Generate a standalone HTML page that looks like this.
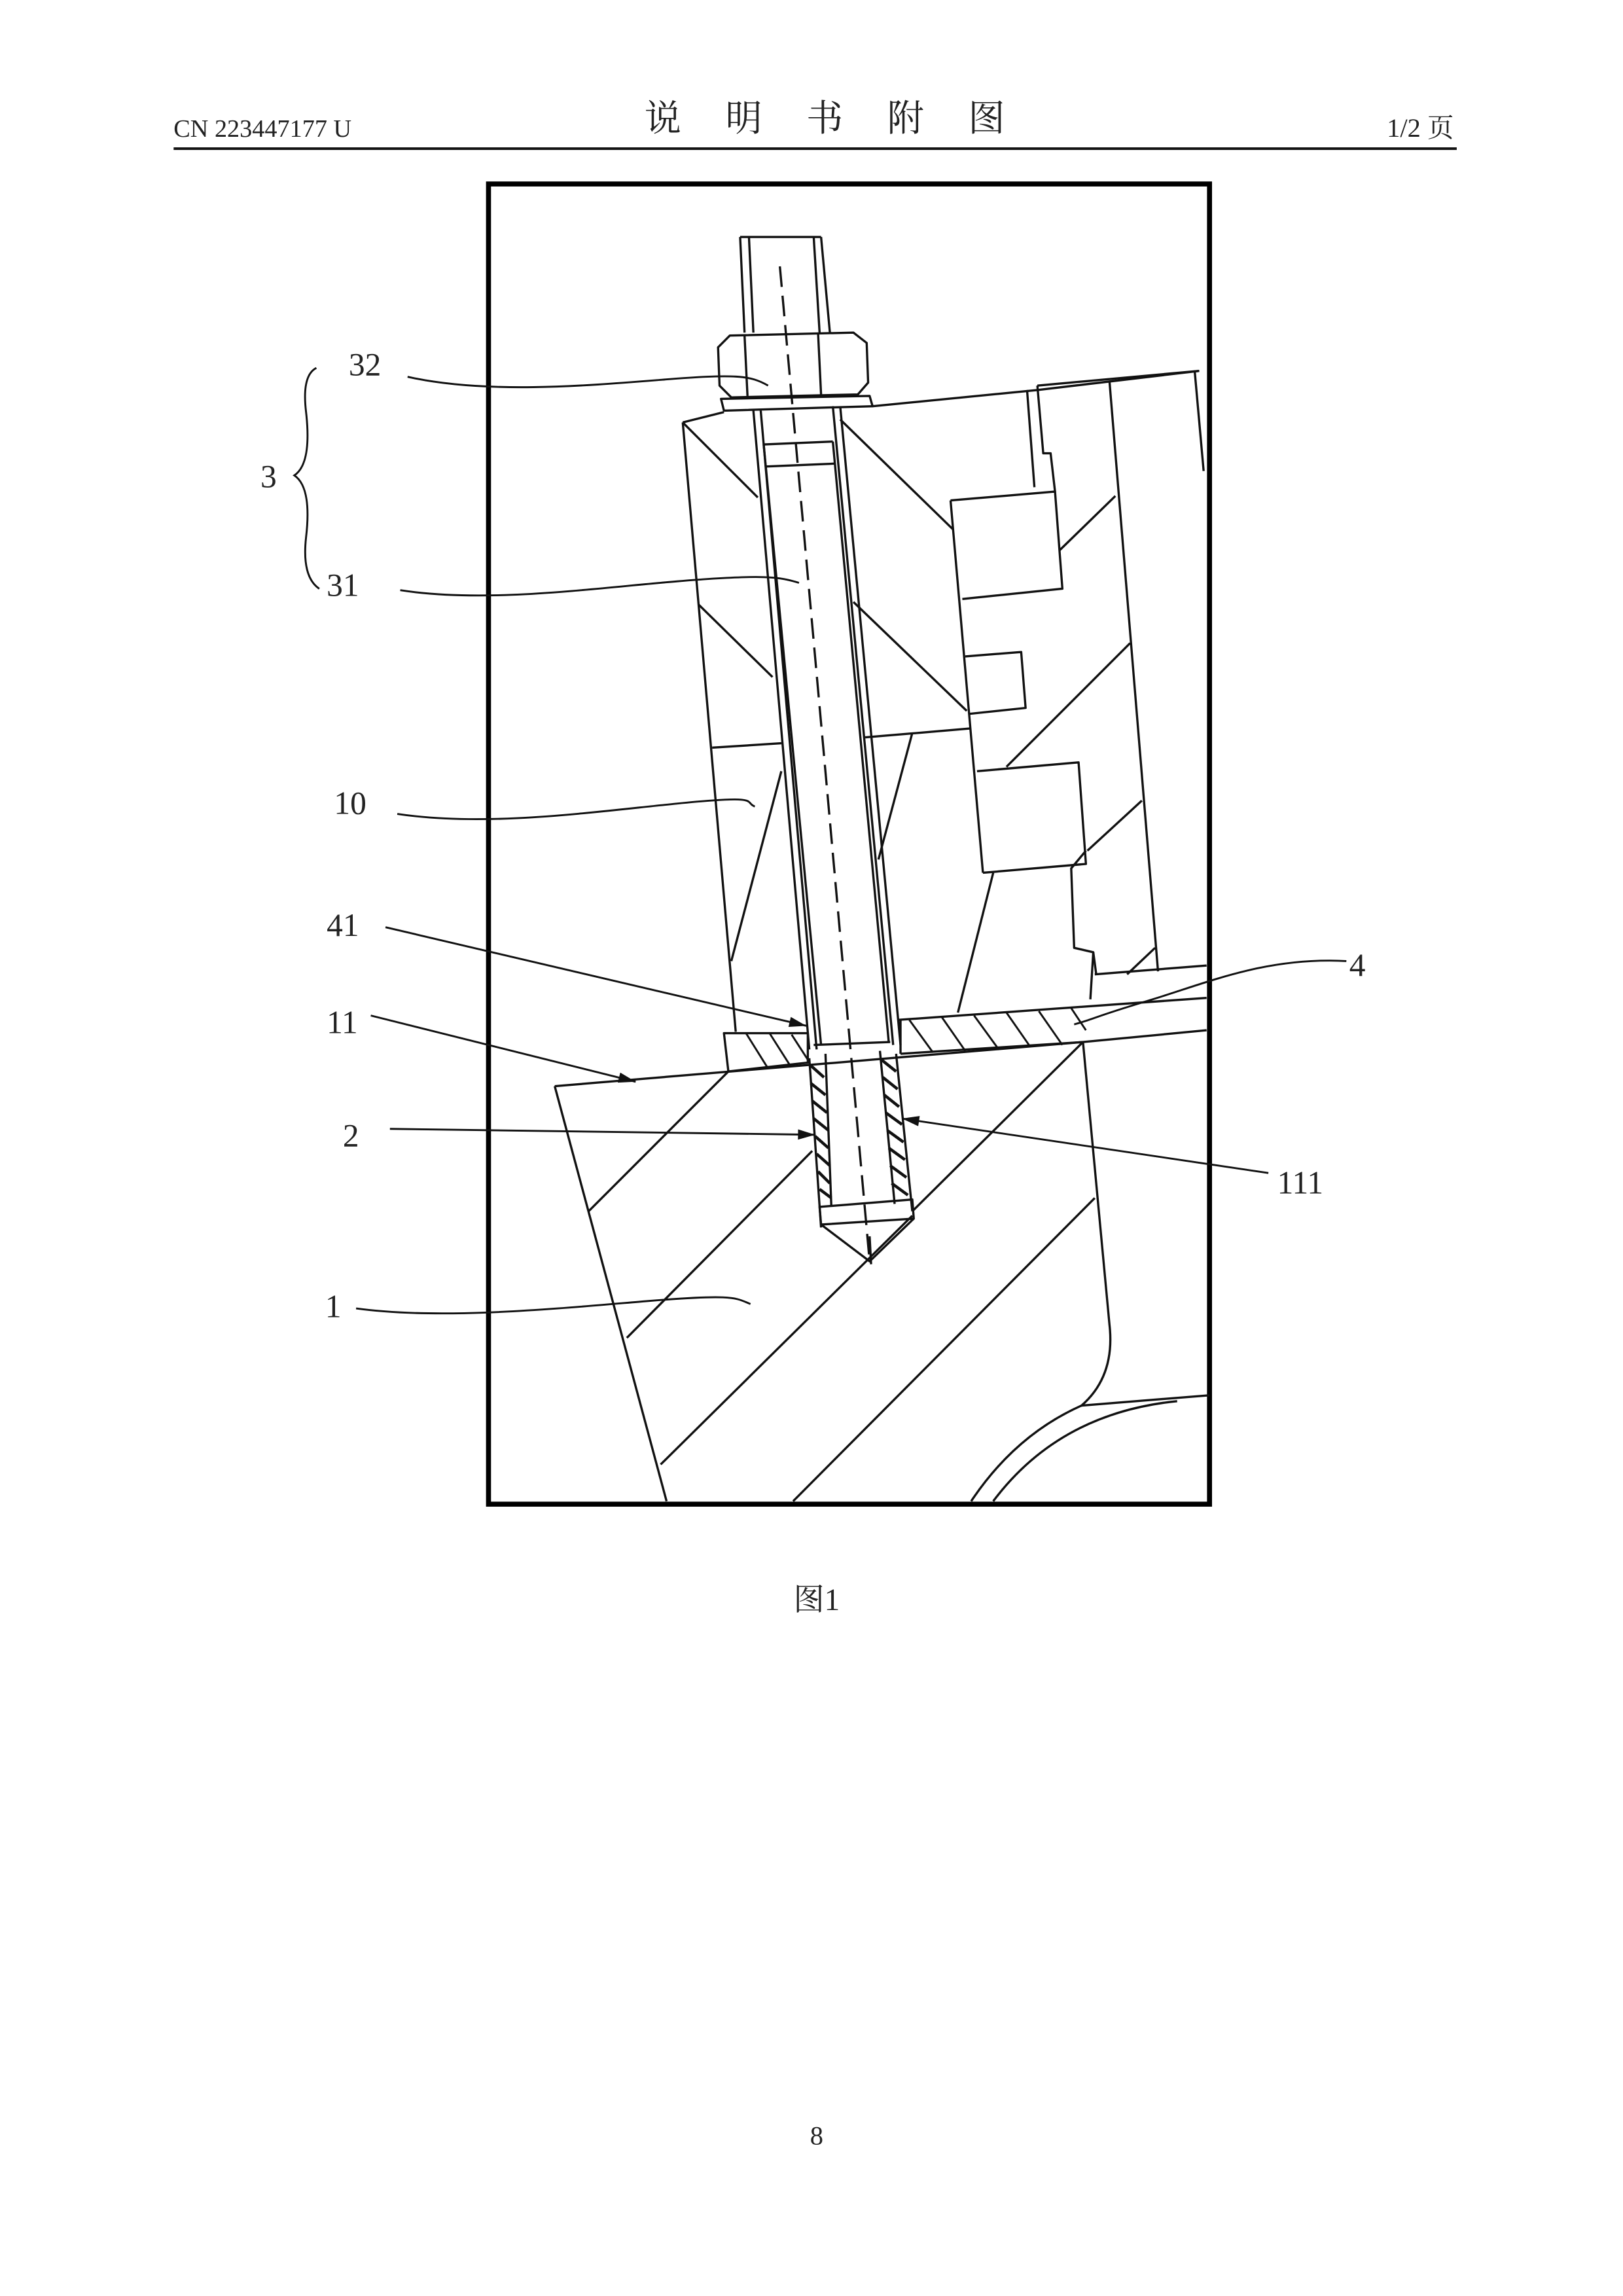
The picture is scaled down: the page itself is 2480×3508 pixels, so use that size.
<!DOCTYPE html>
<html><head><meta charset="utf-8"><style>
html,body{margin:0;padding:0;background:#fff}
svg{display:block}
text{font-family:"Liberation Serif","Noto Serif CJK SC",serif;fill:#222}
</style></head><body>
<svg width="2480" height="3508" viewBox="0 0 1103 1560" preserveAspectRatio="none" xmlns="http://www.w3.org/2000/svg">
<defs>
<marker id="ar" viewBox="0 0 10 6" refX="10" refY="3" markerWidth="14" markerHeight="7" orient="auto" markerUnits="userSpaceOnUse"><path d="M0,0 L10,3 L0,6 z" fill="#111"/></marker>
</defs>
<!-- header -->
<text x="118" y="93" font-size="17">CN 223447177 U</text>
<text x="438" y="89" font-size="25" font-family="Noto Serif CJK SC, serif" letter-spacing="30">说明书附图</text>
<text x="988" y="93" font-size="18" text-anchor="end" font-family="Liberation Serif, Noto Serif CJK SC, serif">1/2 页</text>
<line x1="118" y1="101" x2="990" y2="101" stroke="#111" stroke-width="1.8"/>
<!-- frame -->
<rect x="332" y="125" width="490" height="897" fill="none" stroke="#000" stroke-width="3.4"/>
<g fill="none" stroke="#111" stroke-width="1.5" stroke-linejoin="round">
<line x1="503" y1="161" x2="558" y2="161"/>
<line x1="503" y1="161" x2="506" y2="226"/><line x1="558" y1="161" x2="564" y2="226"/>
<line x1="509" y1="161" x2="512" y2="226"/><line x1="553" y1="161" x2="557" y2="226"/>
<path d="M496,228 L580,226 L589,233 L590,260 L583,268 L497,270 L489,262 L488,236 Z"/>
<line x1="506" y1="228" x2="508" y2="269"/><line x1="556" y1="227" x2="558" y2="268"/>
<path d="M490,271 L591,269 L593,276 L492,279 Z"/>
<polyline points="464,287 492,280"/>
<polyline points="593,276 705,265 815,252"/>
<line x1="464" y1="287" x2="500" y2="701"/>
<line x1="512" y1="279" x2="550" y2="713"/><line x1="517" y1="279" x2="555" y2="713"/>
<line x1="566" y1="276" x2="607" y2="710"/><line x1="571" y1="276" x2="612" y2="710"/>
<line x1="519" y1="302" x2="558" y2="710"/><line x1="566" y1="300" x2="604" y2="708"/>
<line x1="519" y1="302" x2="566" y2="300"/><line x1="520" y1="317" x2="567" y2="315"/>
<line x1="464" y1="287" x2="515" y2="338"/>
<line x1="475" y1="411" x2="525" y2="460"/>
<line x1="484" y1="508" x2="531" y2="505"/>
<line x1="497" y1="653" x2="531" y2="524"/>
<line x1="571" y1="285" x2="648" y2="360"/>
<line x1="580" y1="409" x2="657" y2="483"/>
<line x1="588" y1="501" x2="659" y2="495"/>
<line x1="597" y1="584" x2="620" y2="498"/>
<line x1="651" y1="688" x2="675" y2="593"/>
<path d="M646,340 L717,334 L722,400 L654,407"/>
<path d="M656,446 L694,443 L697,481 L659,485"/>
<path d="M664,524 L733,518 L738,587 L668,593"/>
<line x1="646" y1="340" x2="668" y2="593"/>
<line x1="698" y1="265" x2="703" y2="331"/>
<polyline points="705,262 709,308 714,308 717,334"/>
<line x1="720" y1="374" x2="758" y2="337"/>
<polyline points="738,578 728,590 730,644 743,647 741,679"/>
<line x1="754" y1="259" x2="787" y2="660"/>
<line x1="705" y1="262" x2="815" y2="252"/>
<line x1="812" y1="253" x2="818" y2="320"/>
<line x1="684" y1="521" x2="768" y2="437"/>
<line x1="739" y1="578" x2="776" y2="544"/>
<line x1="766" y1="662" x2="785" y2="644"/>
<line x1="744" y1="662" x2="820" y2="656"/>
<line x1="743" y1="647" x2="745" y2="662"/>
<line x1="610" y1="693" x2="820" y2="678"/>
<line x1="612" y1="716" x2="736" y2="708"/>
<line x1="736" y1="708" x2="820" y2="700"/>
<line x1="612" y1="693" x2="612" y2="716"/>
<g stroke-width="1.3"><line x1="618" y1="693" x2="634" y2="715"/><line x1="640" y1="691" x2="656" y2="714"/><line x1="662" y1="690" x2="678" y2="712"/><line x1="684" y1="688" x2="700" y2="711"/><line x1="706" y1="687" x2="722" y2="710"/><line x1="728" y1="685" x2="738" y2="700"/></g>
<path d="M492,702 L549,702 L549,722 L495,728 Z"/>
<g stroke-width="1.3"><line x1="507" y1="702" x2="522" y2="726"/><line x1="523" y1="702" x2="537" y2="724"/><line x1="538" y1="703" x2="549" y2="720"/></g>
<line x1="377" y1="738" x2="736" y2="708"/>
<line x1="377" y1="738" x2="453" y2="1020"/>
<path d="M736,708 L754,900 Q758,935 735,955 L822,948"/>
<path d="M660,1020 Q690,975 735,955"/>
<path d="M675,1020 Q720,960 800,952"/>
<line x1="400" y1="823" x2="495" y2="728"/>
<line x1="426" y1="909" x2="552" y2="782"/>
<line x1="449" y1="995" x2="620" y2="826"/>
<line x1="539" y1="1020" x2="744" y2="814"/>
<line x1="620" y1="823" x2="736" y2="708"/>
<line x1="553" y1="710" x2="605" y2="708"/>
<line x1="550" y1="719" x2="558" y2="834"/>
<line x1="609" y1="716" x2="620" y2="823"/>
<line x1="561" y1="716" x2="565" y2="820"/>
<line x1="598" y1="714" x2="608" y2="818"/>
<path d="M557,820 L620,815 L621,828 L558,832 Z"/>
<path d="M558,832 L591,857 L621,828"/>
<line x1="591" y1="840" x2="592" y2="859"/>
</g>
<g stroke="#111" stroke-width="2">
<line x1="551" y1="724" x2="560" y2="732"/><line x1="551" y1="736" x2="561" y2="744"/><line x1="552" y1="748" x2="562" y2="756"/><line x1="553" y1="760" x2="563" y2="768"/><line x1="554" y1="772" x2="563" y2="780"/><line x1="555" y1="784" x2="564" y2="792"/><line x1="556" y1="796" x2="564" y2="804"/><line x1="557" y1="808" x2="565" y2="814"/>
<line x1="599" y1="720" x2="609" y2="728"/><line x1="600" y1="732" x2="610" y2="740"/><line x1="601" y1="744" x2="611" y2="752"/><line x1="602" y1="756" x2="613" y2="764"/><line x1="603" y1="768" x2="614" y2="776"/><line x1="604" y1="780" x2="615" y2="788"/><line x1="605" y1="792" x2="616" y2="800"/><line x1="606" y1="804" x2="617" y2="812"/>
</g>
<line x1="530" y1="181" x2="591" y2="857" stroke="#111" stroke-width="1.5" stroke-dasharray="14,6"/>
<g fill="none" stroke="#111" stroke-width="1.3">
<path d="M277,256 C330,268 400,262 450,258 S510,255 522,262"/>
<path d="M272,401 C330,410 400,400 460,395 S530,392 543,396"/>
<path d="M270,553 C330,562 400,552 460,546 S505,545 513,548"/>
<path d="M915,653 C860,650 820,668 780,680 S745,692 730,696"/>
<path d="M242,889 C300,897 380,889 440,884 S500,882 510,886"/>
<line x1="262" y1="630" x2="548" y2="697" marker-end="url(#ar)"/>
<line x1="252" y1="690" x2="432" y2="735" marker-end="url(#ar)"/>
<line x1="265" y1="767" x2="554" y2="771" marker-end="url(#ar)"/>
<line x1="862" y1="797" x2="613" y2="760" marker-end="url(#ar)"/>
<path d="M215,250 Q205,255 208,280 Q212,315 200,323 Q212,331 208,365 Q205,392 217,400"/>
</g>
<g font-size="22">
<text x="237" y="255">32</text>
<text x="177" y="331">3</text>
<text x="222" y="405">31</text>
<text x="227" y="553">10</text>
<text x="222" y="636">41</text>
<text x="222" y="702">11</text>
<text x="233" y="779">2</text>
<text x="221" y="895">1</text>
<text x="917" y="663">4</text>
<text x="868" y="811">111</text>
</g>
<text x="555" y="1094" font-size="21" text-anchor="middle" font-family="Liberation Serif, Noto Serif CJK SC, serif">图1</text>
<text x="555" y="1457" font-size="18" text-anchor="middle">8</text>
</svg>
</body></html>
